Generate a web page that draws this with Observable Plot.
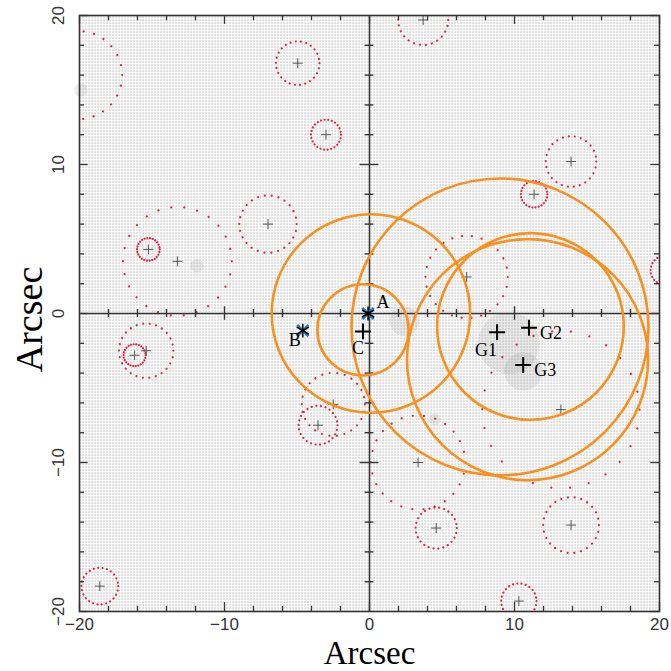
<!DOCTYPE html>
<html><head><meta charset="utf-8">
<script src="https://cdn.jsdelivr.net/npm/d3@7"></script>
<script src="https://cdn.jsdelivr.net/npm/@observablehq/plot@0.6"></script>
<style>
html,body{margin:0;padding:0;background:#fff;}
#chart{width:671px;height:671px;}
</style></head><body><div id="chart"></div>
<script>
const W = 671, H = 671;

// ---- data (arcsec) ----
const xTickLabels = [-20, -10, 0, 10, 20];
const yTickLabels = [-20, -10, 0, 10, 20];
const tickValues = [-20, -18, -16, -14, -12, -10, -8, -6, -4, -2, 0, 2, 4, 6, 8, 10, 12, 14, 16, 18, 20];

// field galaxies (grey +) with their red dotted critical rings (radius in arcsec)
const fieldGalaxies = [
  {x: -4.95, y: 16.8, ring: 1.48},
  {x: -3.0, y: 12.0, ring: 1.02},
  {x: 3.7, y: 19.7, ring: 1.7},
  {x: 13.9, y: 10.2, ring: 1.72},
  {x: 11.35, y: 8.0, ring: 0.9},
  {x: -7.0, y: 6.0, ring: 1.95},
  {x: -15.25, y: 4.3, ring: 0.77},
  {x: -13.25, y: 3.5, ring: 3.7},
  {x: -16.2, y: -2.8, ring: 0.75},
  {x: -15.4, y: -2.5, ring: 1.85},
  {x: -3.55, y: -7.5, ring: 1.32},
  {x: -2.5, y: -6.1, ring: 2.15},
  {x: 6.7, y: 2.45, ring: 2.8},
  {x: 13.2, y: -6.45, ring: 5.35},
  {x: 3.35, y: -10.0, ring: 3.2},
  {x: 4.6, y: -14.4, ring: 1.4},
  {x: 13.9, y: -14.2, ring: 1.9},
  {x: 10.3, y: -19.3, ring: 1.2},
  {x: -18.6, y: -18.3, ring: 1.25}
];
// red rings whose centre lies outside the field
const extraRings = [
  {x: -20.1, y: 16.0, ring: 3.0},
  {x: 20.4, y: 2.9, ring: 1.0}
];
// orange circles
const orangeCircles = [
  {x: -0.45, y: -1.1, r: 3.1},
  {x: 0.1, y: 0.0, r: 6.75},
  {x: 9.0, y: -0.9, r: 10.1},
  {x: 10.9, y: -3.1, r: 8.2},
  {x: 11.1, y: -0.87, r: 6.35}
];
// lens galaxies (black +)
const lensNames = ["G1", "G2", "G3", "C"];
const lensX = [8.8, 11.0, 10.6, -0.45];
const lensY = [-1.25, -0.96, -3.45, -1.2];
// quasar images (asterisks)
const imageNames = ["A", "B"];
const imageX = [-0.1, -4.6];
const imageY = [0.0, -1.15];
// converging grey smudges of the deflection grid
const smudges = [
  {x: 2.4, y: -0.5, r: 1.0},
  {x: 9.6, y: -2.0, r: 2.1},
  {x: 10.6, y: -3.9, r: 1.3},
  {x: -11.9, y: 3.2, r: 0.45},
  {x: -19.9, y: 15.0, r: 0.45},
  {x: 4.5, y: -7.1, r: 0.4}
];

const lenses = lensNames.map((n, i) => ({name: n, x: lensX[i], y: lensY[i]}));
const images = imageNames.map((n, i) => ({name: n, x: imageX[i], y: imageY[i]}));
const rings = fieldGalaxies.concat(extraRings);

const mL = 79, mR = 12, mT = 15, mB = 60;
const kx = (W - mL - mR) / 40, ky = (H - mT - mB) / 40, k = (kx + ky) / 2;

const labelOffsets = {
  A: {dx: 15, dy: -11, a: "middle"}, B: {dx: -8, dy: 10, a: "middle"}, C: {dx: -5, dy: 17, a: "middle"},
  G1: {dx: -11, dy: 18, a: "middle"}, G2: {dx: 11, dy: 5, a: "start"}, G3: {dx: 11, dy: 5, a: "start"}
};
const allLabels = lenses.concat(images);

const dark = "#333";
const isMajor = d => d % 10 === 0;
const inner = tickValues.filter(d => Math.abs(d) < 20 && d !== 0);
const fmt = d => String(d).replace("-", "\u2212");

const ringMarks = rings.map(d => {
  const rp = d.ring * k;
  const gap = 2 * Math.PI * rp / 26;
  return Plot.dot([d], {x: "x", y: "y", r: rp, stroke: "#d7263d", strokeWidth: 2.2, strokeLinecap: "round",
    strokeDasharray: "0.01 " + (gap - 0.01).toFixed(3), fill: "none", clip: true});
});

const chart = Plot.plot({
  width: W, height: H,
  marginLeft: mL, marginRight: mR, marginTop: mT, marginBottom: mB,
  x: {domain: [-20, 20], axis: null},
  y: {domain: [-20, 20], axis: null},
  r: {type: "identity"},
  style: {background: "#fff", overflow: "visible"},
  marks: [
    Plot.frame({fill: "url(#bgdots)", stroke: null}),
    Plot.dot(smudges, {x: "x", y: "y", r: d => d.r * k, fill: "#888", fillOpacity: 0.16, stroke: null}),
    ...ringMarks,
    Plot.dot(fieldGalaxies, {x: "x", y: "y", symbol: "plus", r: 3.3, stroke: "#555", strokeWidth: 1}),
    // centre axes
    Plot.ruleX([0], {stroke: dark, strokeWidth: 1.5}),
    Plot.ruleY([0], {stroke: dark, strokeWidth: 1.5}),
    Plot.ruleX(inner, {x: d => d, y1: d => isMajor(d) ? -0.45 : -0.27, y2: d => isMajor(d) ? 0.45 : 0.27, stroke: dark, strokeWidth: 1.4}),
    Plot.ruleY(inner, {y: d => d, x1: d => isMajor(d) ? -0.65 : -0.3, x2: d => isMajor(d) ? 0.65 : 0.3, stroke: dark, strokeWidth: 1.4}),
    // frame ticks (inward)
    Plot.ruleX(tickValues, {x: d => d, y1: 20, y2: d => 20 - (isMajor(d) ? 0.6 : 0.35), stroke: dark, strokeWidth: 1.3}),
    Plot.ruleX(tickValues, {x: d => d, y1: -20, y2: d => -20 + (isMajor(d) ? 0.6 : 0.35), stroke: dark, strokeWidth: 1.3}),
    Plot.ruleY(tickValues, {y: d => d, x1: -20, x2: d => -20 + (isMajor(d) ? 0.6 : 0.35), stroke: dark, strokeWidth: 1.3}),
    Plot.ruleY(tickValues, {y: d => d, x1: 20, x2: d => 20 - (isMajor(d) ? 0.6 : 0.35), stroke: dark, strokeWidth: 1.3}),
    Plot.frame({stroke: dark, strokeWidth: 1.6}),
    // orange circles
    Plot.dot(orangeCircles, {x: "x", y: "y", r: d => d.r * k, stroke: "#f7901e", strokeWidth: 2.6, fill: "none"}),
    // lens galaxies and images
    Plot.dot(lenses, {x: "x", y: "y", symbol: "plus", r: 5.2, stroke: "#000", strokeWidth: 2}),
    Plot.dot(images, {x: "x", y: "y", symbol: "times", r: 5.2, stroke: "#2b7bbf", strokeWidth: 2.6}),
    Plot.dot(images, {x: "x", y: "y", symbol: "asterisk", r: 6.6, stroke: "#000", strokeWidth: 1.5}),
    ...allLabels.map(d => Plot.text([d], {x: "x", y: "y", text: "name", dx: labelOffsets[d.name].dx, dy: labelOffsets[d.name].dy,
      textAnchor: labelOffsets[d.name].a, fontFamily: "Liberation Serif", fontSize: 18, fill: "#000"})),
    // tick labels
    Plot.text(xTickLabels, {x: d => d, y: -20, dy: 13, text: fmt, fontFamily: "Liberation Sans", fontSize: 17, fill: dark}),
    Plot.text(yTickLabels, {x: -20, y: d => d, dx: -21, rotate: -90, text: fmt, fontFamily: "Liberation Sans", fontSize: 17, fill: dark}),
    // axis titles
    Plot.text(["Arcsec"], {x: 0, y: -20, dy: 42, text: d => d, fontFamily: "Liberation Serif", fontSize: 33, fill: "#000"}),
    Plot.text(["Arcsec"], {x: -20, y: 0, dx: -50, dy: 6, rotate: -90, text: d => d, fontFamily: "Liberation Serif", fontSize: 38, fill: "#000"})
  ]
});

const svg = d3.select(chart);
svg.insert("defs", ":first-child").html(
  '<pattern id="bgdots" width="3" height="3" patternUnits="userSpaceOnUse">' +
  '<rect x="1" y="1" width="1.2" height="1.2" fill="#9c9c9c"/></pattern>');
document.getElementById("chart").appendChild(chart);
</script></body></html>
